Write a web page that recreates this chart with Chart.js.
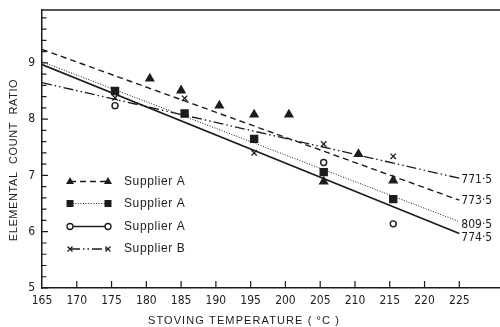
<!DOCTYPE html>
<html>
<head>
<meta charset="utf-8">
<script src="https://cdn.jsdelivr.net/npm/chart.js@4.4.0/dist/chart.umd.min.js"></script>
<style>
  html, body { margin: 0; padding: 0; background: #fff; }
  #wrap { width: 500px; height: 327px; }
</style>
</head>
<body>
<div id="wrap"><canvas id="chart"></canvas></div>
<script>
// axis ticks
const tempTicks = [165, 170, 175, 180, 185, 190, 195, 200, 205, 210, 215, 220, 225];
const ratioTicks = [5, 6, 7, 8, 9];

// measured points
const triTemp = [180.5, 185, 190.5, 195.5, 200.5, 205.5, 210.5, 215.5];
const triRatio = [8.72, 8.51, 8.24, 8.08, 8.08, 6.89, 7.38, 6.91];
const sqTemp = [175.5, 185.5, 195.5, 205.5, 215.5];
const sqRatio = [8.5, 8.1, 7.65, 7.06, 6.58];
const circTemp = [175.5, 205.5, 215.5];
const circRatio = [8.24, 7.23, 6.14];
const crossTemp = [175.5, 185.5, 195.5, 205.5, 215.5];
const crossRatio = [8.38, 8.37, 7.4, 7.56, 7.34];

// fitted lines (ends at 165 and 225)
const fitTemp = [165, 225];
const fitDashed = [9.24, 6.56];
const fitDotted = [9.02, 6.18];
const fitSolid = [8.97, 5.97];
const fitDashDot = [8.65, 6.95];
const fitLabels = ['773·5', '809·5', '774·5', '771·5'];

const legendNames = ['Supplier A', 'Supplier A', 'Supplier A', 'Supplier B'];

const ink = '#1c1c1c';
const narrow = '"Liberation Sans Narrow", "DejaVu Sans Condensed", "Liberation Sans", sans-serif';

const pts = (xs, ys) => xs.map((x, i) => ({ x: x, y: ys[i] }));

const dashes = [[6, 4], [1, 1.6], [], [10, 3, 1.5, 3, 1.5, 3]];
const widths = [1.4, 1, 1.6, 1.3];

function fitSet(ys, i) {
  return {
    data: pts(fitTemp, ys),
    showLine: true,
    borderColor: ink,
    borderWidth: widths[i],
    borderDash: dashes[i],
    pointRadius: 0,
    fill: false
  };
}

function markSet(xs, ys, style, radius) {
  return {
    data: pts(xs, ys),
    showLine: false,
    pointStyle: style,
    pointRadius: radius,
    pointBackgroundColor: style === 'circle' ? '#fff' : ink,
    pointBorderColor: ink,
    pointBorderWidth: style === 'circle' ? 1.4 : 1.3
  };
}

function drawMark(ctx, style, x, y) {
  ctx.save();
  ctx.fillStyle = ink;
  ctx.strokeStyle = ink;
  ctx.lineWidth = 1.2;
  ctx.setLineDash([]);
  if (style === 'triangle') {
    ctx.beginPath();
    ctx.moveTo(x, y - 4.5);
    ctx.lineTo(x + 4, y + 2.5);
    ctx.lineTo(x - 4, y + 2.5);
    ctx.closePath();
    ctx.fill();
  } else if (style === 'rect') {
    ctx.fillRect(x - 3.5, y - 3.5, 7, 7);
  } else if (style === 'circle') {
    ctx.beginPath();
    ctx.arc(x, y, 3, 0, Math.PI * 2);
    ctx.fillStyle = '#fff';
    ctx.fill();
    ctx.lineWidth = 1.3;
    ctx.stroke();
  } else {
    ctx.beginPath();
    ctx.moveTo(x - 2.5, y - 2.5); ctx.lineTo(x + 2.5, y + 2.5);
    ctx.moveTo(x + 2.5, y - 2.5); ctx.lineTo(x - 2.5, y + 2.5);
    ctx.stroke();
  }
  ctx.restore();
}

const decor = {
  id: 'decor',
  afterDraw(chart) {
    const ctx = chart.ctx;
    const a = chart.chartArea;
    const xs = chart.scales.x;
    const ys = chart.scales.y;
    ctx.save();
    ctx.strokeStyle = ink;
    ctx.fillStyle = ink;

    // top frame
    ctx.lineWidth = 1.5;
    ctx.beginPath();
    ctx.moveTo(a.left, a.top);
    ctx.lineTo(a.right, a.top);
    ctx.stroke();

    // inward ticks
    ctx.lineWidth = 1.2;
    ctx.beginPath();
    for (let k = 0; k <= 24; k++) {
      const v = 5 + k * 0.2;
      const py = ys.getPixelForValue(v);
      const len = k % 5 === 0 ? 6 : 4.5;
      ctx.moveTo(a.left, py);
      ctx.lineTo(a.left + len, py);
    }
    tempTicks.slice(1).forEach(t => {
      const px = xs.getPixelForValue(t);
      ctx.moveTo(px, a.bottom);
      ctx.lineTo(px, a.bottom - 7);
    });
    ctx.stroke();

    // labels at line ends
    const ends = [fitDashed, fitDotted, fitSolid, fitDashDot];
    const nudge = [1, 3, 4, 2];
    ctx.font = '12px ' + narrow;
    ctx.textAlign = 'left';
    ctx.textBaseline = 'middle';
    ends.forEach((f, i) => {
      const px = xs.getPixelForValue(fitTemp[1]) + 2;
      const py = ys.getPixelForValue(f[1]) + nudge[i];
      ctx.fillText(fitLabels[i], px, py);
    });

    // legend
    const styles = ['triangle', 'rect', 'circle', 'crossRot'];
    const rowY = [181.5, 203.5, 226.5, 249];
    ctx.font = '12px "Liberation Sans", Arial, sans-serif';
    ctx.letterSpacing = '0.6px';
    rowY.forEach((y, i) => {
      ctx.save();
      ctx.lineWidth = widths[i];
      ctx.setLineDash(dashes[i]);
      ctx.beginPath();
      ctx.moveTo(70, y);
      ctx.lineTo(108, y);
      ctx.stroke();
      ctx.restore();
      drawMark(ctx, styles[i], 70, y);
      drawMark(ctx, styles[i], 108, y);
      ctx.fillText(legendNames[i], 124, y);
    });

    // axis titles
    ctx.font = '11px "Liberation Sans", Arial, sans-serif';
    ctx.letterSpacing = '1.1px';
    ctx.textAlign = 'center';
    ctx.fillText('STOVING TEMPERATURE ( °C )', 244, 321);
    ctx.save();
    ctx.translate(14, 160);
    ctx.rotate(-Math.PI / 2);
    ctx.letterSpacing = '0.6px';
    ctx.fillText('ELEMENTAL  COUNT  RATIO', 0, 0);
    ctx.restore();
    ctx.restore();
  }
};

new Chart(document.getElementById('chart'), {
  type: 'scatter',
  data: {
    datasets: [
      fitSet(fitDashed, 0),
      fitSet(fitDotted, 1),
      fitSet(fitSolid, 2),
      fitSet(fitDashDot, 3),
      markSet(triTemp, triRatio, 'triangle', 4.6),
      markSet(sqTemp, sqRatio, 'rect', 5),
      markSet(circTemp, circRatio, 'circle', 3),
      markSet(crossTemp, crossRatio, 'crossRot', 3.8)
    ]
  },
  options: {
    responsive: true,
    maintainAspectRatio: false,
    animation: false,
    layout: { autoPadding: false, padding: { top: 10, right: 0, left: 0, bottom: 0 } },
    plugins: {
      legend: { display: false },
      tooltip: { enabled: false },
      title: { display: false }
    },
    scales: {
      x: {
        type: 'linear',
        min: 165,
        max: 230.85,
        afterBuildTicks: s => { s.ticks = tempTicks.map(v => ({ value: v })); },
        afterFit: s => { s.height = 39; s.paddingLeft = 0; s.paddingRight = 0; },
        grid: { display: false, drawTicks: false },
        border: { display: true, color: ink, width: 1.5 },
        ticks: {
          color: ink,
          padding: 6,
          maxRotation: 0,
          autoSkip: false,
          font: { family: narrow, size: 12 }
        }
      },
      y: {
        type: 'linear',
        min: 5,
        max: 9.94,
        afterBuildTicks: s => { s.ticks = ratioTicks.map(v => ({ value: v })); },
        afterFit: s => { s.width = 42; s.paddingTop = 0; s.paddingBottom = 0; },
        grid: { display: false, drawTicks: false },
        border: { display: true, color: ink, width: 1.5 },
        ticks: {
          color: ink,
          padding: 7,
          font: { family: narrow, size: 12 }
        }
      }
    }
  },
  plugins: [decor]
});
</script>
</body>
</html>
